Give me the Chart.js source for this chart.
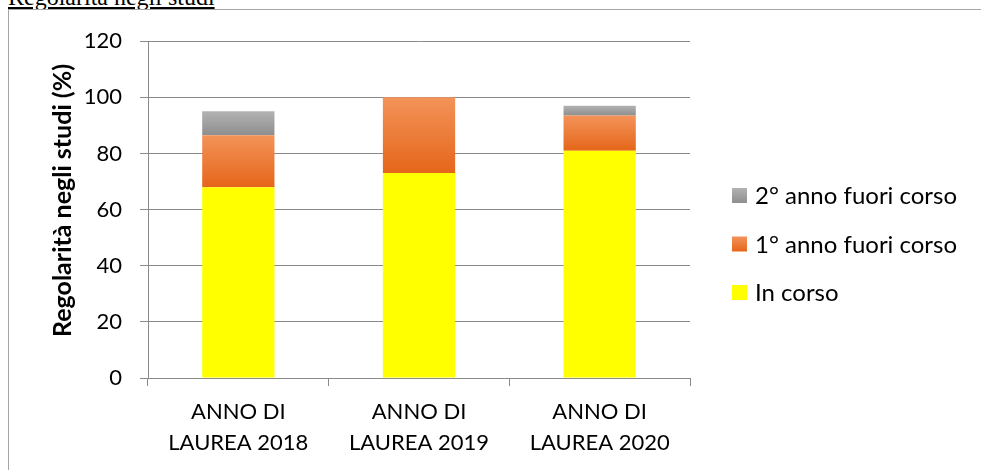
<!DOCTYPE html>
<html><head><meta charset="utf-8">
<script src="https://cdn.jsdelivr.net/npm/chart.js@4"></script>
<style>
html,body{margin:0;padding:0;background:#fff;overflow:hidden;width:981px;height:470px;}
#title{position:absolute;left:8px;top:-15px;font:24px/24px "Liberation Serif","Times New Roman",serif;text-decoration:underline;color:#000;white-space:nowrap;}
#box{position:absolute;left:8px;top:9px;width:1000px;height:500px;border:1px solid #a6a6a6;}
#wrap{position:absolute;left:9px;top:10px;width:972px;height:460px;}
</style></head>
<body>
<div id="title">Regolarità negli studi</div>
<div id="box"></div>
<div id="wrap"><canvas id="c" width="972" height="460"></canvas></div>
<script>
const categories = [["ANNO DI", "LAUREA 2018"], ["ANNO DI", "LAUREA 2019"], ["ANNO DI", "LAUREA 2020"]];
const seriesLabels = ["In corso", "1° anno fuori corso", "2° anno fuori corso"];
const inCorso = [68, 73, 81];
const primoFuoriCorso = [18.5, 27, 12.5];
const secondoFuoriCorso = [8.5, 0, 3.5];
const yTicks = [0, 20, 40, 60, 80, 100, 120];
const axisTitle = "   Regolarità negli studi (%)";

const FONT = "Lato, 'Open Sans', sans-serif";
const GRID = '#8a8a8a';

function segGrad(top, bottom) {
  return (ctx) => {
    if (ctx.type !== 'data') return bottom;
    const chart = ctx.chart, y = chart.scales.y;
    if (!chart.chartArea || !y) return bottom;
    const ds = chart.data.datasets;
    let base = 0;
    for (let k = 0; k < ctx.datasetIndex; k++) base += ds[k].data[ctx.dataIndex];
    const v = ds[ctx.datasetIndex].data[ctx.dataIndex];
    const y0 = y.getPixelForValue(base + v), y1 = y.getPixelForValue(base);
    if (!isFinite(y0) || !isFinite(y1) || y0 === y1) return bottom;
    const g = chart.ctx.createLinearGradient(0, y0, 0, y1);
    g.addColorStop(0, top); g.addColorStop(1, bottom);
    return g;
  };
}

const legendColors = [['#ffff00', '#ffff00'], ['#f39359', '#e5661a'], ['#b2b2b2', '#8e8e8e']];

const sideLegend = {
  id: 'sideLegend',
  afterDraw(chart) {
    const c = chart.ctx;
    const x0 = 723, size = 15, textX = 746;
    const tops = [178, 226.5, 275];
    const order = [2, 1, 0];
    c.save();
    c.font = "24px " + FONT;
    c.textBaseline = 'middle';
    c.textAlign = 'left';
    order.forEach((di, i) => {
      const t = tops[i];
      const [a, b] = legendColors[di];
      const g = c.createLinearGradient(0, t, 0, t + size);
      g.addColorStop(0, a); g.addColorStop(1, b);
      c.fillStyle = g;
      c.fillRect(x0, t, size, size);
      c.fillStyle = '#000';
      c.fillText(chart.data.datasets[di].label, textX, t + size / 2 + 1);
    });
    c.restore();
  }
};

new Chart(document.getElementById('c'), {
  type: 'bar',
  data: {
    labels: categories,
    datasets: [
      { label: seriesLabels[0], data: inCorso, backgroundColor: '#ffff00' },
      { label: seriesLabels[1], data: primoFuoriCorso, backgroundColor: segGrad('#f39359', '#e5661a') },
      { label: seriesLabels[2], data: secondoFuoriCorso, backgroundColor: segGrad('#b2b2b2', '#8e8e8e') }
    ]
  },
  options: {
    responsive: false,
    animation: false,
    devicePixelRatio: 1,
    layout: { padding: { top: 30, right: 291, left: 0, bottom: 0 } },
    plugins: { legend: { display: false }, tooltip: { enabled: false } },
    datasets: { bar: { barPercentage: 0.4, categoryPercentage: 1.0, borderWidth: 0 } },
    scales: {
      x: {
        stacked: true,
        grid: { display: true, offset: true, drawOnChartArea: false, drawTicks: true, tickLength: 8, color: GRID },
        border: { color: GRID },
        ticks: { font: { family: FONT, size: 22, lineHeight: 1.39 }, color: '#000', padding: 11, maxRotation: 0, autoSkip: false },
        afterFit(s) { s.height = 92; }
      },
      y: {
        stacked: true,
        min: 0, max: 120,
        afterBuildTicks(s) { s.ticks = yTicks.map(v => ({ value: v })); },
        grid: { color: GRID, tickLength: 8 },
        border: { color: GRID },
        ticks: { font: { family: FONT, size: 22 }, color: '#000', padding: 18 },
        title: { display: true, text: axisTitle, font: { family: FONT, size: 25, weight: 'bold' }, color: '#000', padding: { top: 39, bottom: 0 } },
        afterFit(s) { s.width = 139; }
      }
    }
  },
  plugins: [sideLegend]
});
</script>
</body></html>
